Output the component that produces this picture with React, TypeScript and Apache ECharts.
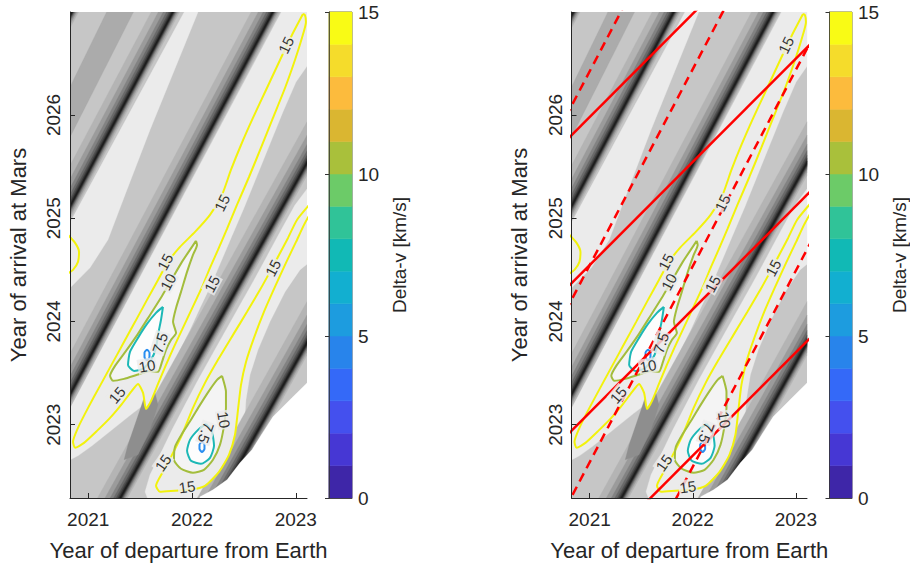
import { useEffect, useRef } from 'react';
import * as echarts from 'echarts';

// ---------- axes ----------
const depRange = [2020.824, 2023.108];
const arrRange = [2022.29, 2026.997];
const depTicks = [2021, 2022, 2023];
const arrTicks = [2023, 2024, 2025, 2026];
const cbTicks = [0, 5, 10, 15];
const cbLevels = [0, 1, 2, 3, 4, 5, 6, 7, 8, 9, 10, 11, 12, 13, 14];
const cbColors = ['#3e26a8', '#4637d4', '#4450ee', '#3469f8', '#2884eb', '#1d9cdf', '#12afd0', '#11b9b5',
  '#30c398', '#6ccb68', '#a9c03b', '#dab631', '#fcbb3d', '#f5dc2b', '#f9fb15'];

// ---------- contour lines (departure year, arrival year) ----------
const c15A = [[2023.069,2026.977],[2022.963,2026.774],[2022.848,2026.532],[2022.713,2026.242],[2022.587,2025.971],[2022.472,2025.709],[2022.375,2025.467],[2022.289,2025.225],[2022.173,2025.032],[2022.029,2024.867],[2021.884,2024.722],[2021.769,2024.577],[2021.672,2024.402],[2021.566,2024.209],[2021.451,2023.996],[2021.335,2023.783],[2021.229,2023.589],[2021.113,2023.376],[2020.998,2023.163],[2020.901,2022.970],[2020.853,2022.834],[2020.873,2022.776],[2020.959,2022.824],[2021.084,2022.940],[2021.210,2023.066],[2021.325,2023.202],[2021.412,2023.318],[2021.479,2023.395],[2021.528,2023.308],[2021.557,2023.153],[2021.605,2023.231],[2021.672,2023.395],[2021.749,2023.579],[2021.826,2023.754],[2021.903,2023.918],[2021.980,2024.083],[2022.048,2024.228],[2022.106,2024.354],[2022.173,2024.519],[2022.250,2024.693],[2022.337,2024.896],[2022.433,2025.128],[2022.549,2025.399],[2022.664,2025.680],[2022.780,2025.971],[2022.896,2026.261],[2022.992,2026.532],[2023.059,2026.745],[2023.098,2026.900],[2023.088,2026.968],[2023.069,2026.977]];
const c15B = [[2023.137,2025.138],[2023.011,2024.983],[2022.925,2024.809],[2022.838,2024.644],[2022.751,2024.480],[2022.655,2024.306],[2022.530,2024.093],[2022.395,2023.870],[2022.250,2023.628],[2022.125,2023.405],[2022.009,2023.163],[2021.903,2022.902],[2021.807,2022.708],[2021.720,2022.544],[2021.653,2022.408],[2021.691,2022.350],[2021.836,2022.360],[2021.980,2022.369],[2022.125,2022.408],[2022.260,2022.544],[2022.356,2022.708],[2022.414,2022.902],[2022.443,2023.144],[2022.472,2023.386],[2022.520,2023.608],[2022.597,2023.841],[2022.693,2024.093],[2022.799,2024.335],[2022.905,2024.567],[2023.002,2024.770],[2023.079,2024.935],[2023.137,2025.041]];
const c15C = [[2020.795,2024.848],[2020.873,2024.761],[2020.911,2024.673],[2020.901,2024.577],[2020.853,2024.499],[2020.795,2024.460]];
const contour15 = [c15A, c15B, c15C];

const c10A = [[2022.038,2024.780],[2021.980,2024.693],[2021.903,2024.577],[2021.807,2024.412],[2021.711,2024.247],[2021.595,2024.063],[2021.479,2023.880],[2021.364,2023.715],[2021.258,2023.570],[2021.210,2023.473],[2021.239,2023.425],[2021.345,2023.444],[2021.470,2023.483],[2021.595,2023.521],[2021.672,2023.512],[2021.711,2023.608],[2021.749,2023.725],[2021.797,2023.821],[2021.846,2023.889],[2021.817,2023.996],[2021.846,2024.131],[2021.894,2024.286],[2021.952,2024.480],[2022.009,2024.644],[2022.048,2024.741],[2022.038,2024.780]];
const c10B = [[2022.289,2023.473],[2022.327,2023.318],[2022.327,2023.163],[2022.308,2022.989],[2022.269,2022.805],[2022.202,2022.660],[2022.115,2022.563],[2022.009,2022.534],[2021.894,2022.573],[2021.826,2022.660],[2021.836,2022.786],[2021.903,2022.911],[2021.990,2023.047],[2022.077,2023.192],[2022.164,2023.328],[2022.241,2023.434],[2022.289,2023.473]];
const contour10 = [c10A, c10B];

const c75A = [[2021.720,2024.141],[2021.701,2024.015],[2021.672,2023.870],[2021.653,2023.744],[2021.605,2023.628],[2021.528,2023.541],[2021.441,2023.521],[2021.383,2023.579],[2021.402,2023.705],[2021.479,2023.841],[2021.566,2023.976],[2021.653,2024.083],[2021.720,2024.141]];
const c75B = [[2022.135,2023.008],[2022.192,2022.931],[2022.212,2022.795],[2022.173,2022.679],[2022.086,2022.621],[2021.990,2022.650],[2021.952,2022.747],[2021.980,2022.853],[2022.058,2022.950],[2022.135,2023.008]];
const contour75 = [c75A, c75B];

const c5A = [[2021.566,2023.729],[2021.590,2023.700],[2021.590,2023.652],[2021.566,2023.623],[2021.542,2023.652],[2021.542,2023.700],[2021.566,2023.729]];
const c5B = [[2022.096,2022.836],[2022.120,2022.808],[2022.120,2022.764],[2022.096,2022.736],[2022.072,2022.764],[2022.072,2022.808],[2022.096,2022.836]];
const contour5 = [c5A, c5B];

// contour labels
const labelText = ['15', '15', '15', '10', '15', '7.5', '10', '15', '15', '7.5', '10', '15', '15'];
const labelPos = [[2022.905,2026.677],[2022.289,2025.148],[2021.740,2024.577],[2021.769,2024.383],[2022.192,2024.364],[2021.691,2023.792],[2021.566,2023.570],[2021.277,2023.289],[2022.780,2024.519],[2022.135,2022.921],[2022.308,2023.047],[2021.720,2022.631],[2021.952,2022.398]];
const labelAngle = [64, 64, 62, 62, 62, 72, 10, 50, 62, -110, -80, 55, 8];

// ---------- grey background field ----------
// dark ridges: two points on each ridge centre line
const ridges = [
  [2020.844, 2026.998, 2021.817, 2028.847],
  [2020.844, 2025.148, 2021.817, 2026.997],
  [2020.824, 2023.289, 2022.780, 2026.997],
  [2021.306, 2022.282, 2022.626, 2024.664],
  [2022.500, 2022.698, 2023.108, 2023.792],
];
// offsets above / below the ridge centre (years of arrival)
const ridgeUp = [0.40, 0.27, 0.18, 0.12, 0.075, 0.045, 0.02];
const ridgeDown = [-0.12, -0.09, -0.065, -0.048, -0.034, -0.022, -0.01];
const ridgeGrey = ['#b4b4b4', '#9b9b9b', '#828282', '#696969', '#505050', '#373737', '#1e1e1e'];

const lightRegions = [
  [[2021.961,2027.065],[2022.086,2027.065],[2021.595,2025.854],[2021.354,2025.225],[2021.190,2024.790],[2021.017,2024.519],[2020.786,2024.286],[2020.786,2024.887]],
  [[2022.896,2027.065],[2023.137,2027.065],[2023.137,2026.513],[2023.002,2026.319],[2022.876,2026.029],[2022.751,2025.719],[2022.626,2025.409],[2022.501,2025.099],[2022.385,2024.828],[2022.279,2024.577],[2022.183,2024.354],[2022.077,2024.131],[2021.980,2023.918],[2021.884,2023.725],[2021.788,2023.531],[2021.691,2023.318],[2021.576,2023.221],[2021.422,2023.105],[2021.229,2022.950],[2021.036,2022.795],[2020.901,2022.698],[2020.786,2022.640],[2020.786,2023.086]],
  [[2023.137,2025.322],[2023.137,2024.577],[2023.040,2024.499],[2022.896,2024.286],[2022.751,2023.996],[2022.636,2023.725],[2022.559,2023.483],[2022.520,2023.241],[2022.501,2022.950],[2022.462,2022.660],[2022.385,2022.466],[2022.289,2022.321],[2022.173,2022.224],[2021.595,2022.224],[2021.547,2022.350],[2021.595,2022.515],[2021.691,2022.708],[2021.807,2022.950],[2021.932,2023.192],[2022.058,2023.434],[2022.192,2023.676],[2022.327,2023.918],[2022.462,2024.160],[2022.587,2024.383],[2022.713,2024.615],[2022.848,2024.867],[2022.992,2025.128]],
];
const mediumRegions = [
  [[2021.210,2027.065],[2021.470,2027.065],[2020.786,2025.709],[2020.786,2026.193]],
];
const wedgeRegions = [
  [[2021.605,2023.463],[2021.499,2023.144],[2021.383,2022.805],[2021.345,2022.660],[2021.479,2022.708],[2021.595,2022.950],[2021.672,2023.192]],
];
const noDataRegion = [[2023.137,2023.434],[2022.963,2023.260],[2022.780,2023.076],[2022.655,2022.882],[2022.578,2022.757],[2022.462,2022.631],[2022.337,2022.466],[2022.202,2022.369],[2022.077,2022.302],[2022.058,2022.224],[2023.137,2022.224]];

// ---------- red reference lines (right panel) ----------
const solidLines = [
  [[2020.70, 2025.68], [2022.20, 2027.18]],
  [[2020.70, 2024.245], [2023.20, 2026.745]],
  [[2020.70, 2022.818], [2023.20, 2025.318]],
  [[2021.50, 2022.20], [2023.20, 2023.90]],
];
const dashedLines = [
  [[2020.70, 2025.852], [2021.40, 2027.182]],
  [[2020.70, 2023.973], [2022.35, 2027.108]],
  [[2020.70, 2022.066], [2023.20, 2026.816]],
  [[2021.70, 2022.022], [2023.20, 2024.872]],
];

const FONT = "'Liberation Sans', Arial, Helvetica, sans-serif";
const TXT = '#262626';
const plain = (v: number) => String(v);

function clipPoly(pts: number[][]): number[][] {
  const bounds: [number, number, boolean][] = [
    [0, depRange[0], true], [0, depRange[1], false], [1, arrRange[0], true], [1, arrRange[1], false],
  ];
  let out = pts;
  for (const [a, v, greater] of bounds) {
    const inp = out;
    out = [];
    if (!inp.length) break;
    for (let i = 0; i < inp.length; i++) {
      const cur = inp[i];
      const prev = inp[(i + inp.length - 1) % inp.length];
      const inC = greater ? cur[a] >= v : cur[a] <= v;
      const inP = greater ? prev[a] >= v : prev[a] <= v;
      const cross = () => {
        const t = (v - prev[a]) / (cur[a] - prev[a]);
        return [prev[0] + t * (cur[0] - prev[0]), prev[1] + t * (cur[1] - prev[1])];
      };
      if (inC) {
        if (!inP) out.push(cross());
        out.push(cur);
      } else if (inP) {
        out.push(cross());
      }
    }
  }
  return out;
}

function ridgeBand(r: number[], up: number, down: number): number[][] {
  const [x1, y1, x2, y2] = r;
  const s = (y2 - y1) / (x2 - x1);
  const xa = 2020.3, xb = 2023.6;
  const ya = y1 + (xa - x1) * s, yb = y1 + (xb - x1) * s;
  return [[xa, ya + up], [xb, yb + up], [xb, yb + down], [xa, ya + down]];
}

function polySeries(g: number, polys: number[][][], fill: string) {
  return {
    type: 'custom', xAxisIndex: g, yAxisIndex: g, clip: true, silent: true, z: 1,
    data: polys.map((p) => p[0]),
    renderItem: (params: any, api: any) => {
      const clipped = clipPoly(polys[params.dataIndex]);
      if (clipped.length < 3) return { type: 'group', children: [] };
      return {
        type: 'polygon',
        shape: { points: clipped.map((p) => api.coord(p)) },
        style: { fill, stroke: fill, lineWidth: 0.3 },
      };
    },
  };
}

function lineSeries(g: number, pts: number[][], color: string, width: number, type: any = 'solid') {
  return {
    type: 'line', xAxisIndex: g, yAxisIndex: g, data: pts, showSymbol: false, symbol: 'none',
    clip: true, silent: true, z: 3, smooth: 0.2,
    lineStyle: { color, width, type, cap: 'butt' },
  };
}

function panelSeries(g: number, withRed: boolean) {
  const s: any[] = [];
  s.push(polySeries(g, mediumRegions, '#ababab'));
  s.push(polySeries(g, lightRegions, '#ebebeb'));
  ridgeUp.forEach((u, i) => {
    s.push(polySeries(g, ridges.map((r) => ridgeBand(r, u, ridgeDown[i])), ridgeGrey[i]));
  });
  s.push(polySeries(g, wedgeRegions, '#8e8e8e'));
  s.push(polySeries(g, [c15A, c15B], '#ebebeb'));
  s.push(polySeries(g, contour10, '#f4f4f4'));
  s.push(polySeries(g, contour75, '#fdfdfd'));
  s.push(polySeries(g, [noDataRegion], '#ffffff'));
  contour15.forEach((p) => s.push(lineSeries(g, p, '#f2f20c', 2)));
  contour10.forEach((p) => s.push(lineSeries(g, p, '#a3bd3c', 2)));
  contour75.forEach((p) => s.push(lineSeries(g, p, '#1db8b6', 2)));
  contour5.forEach((p) => s.push(lineSeries(g, p, '#2a8ef0', 2)));
  s.push({
    type: 'scatter', xAxisIndex: g, yAxisIndex: g, symbolSize: 1, silent: true, z: 4,
    itemStyle: { color: 'rgba(0,0,0,0)' },
    label: {
      show: true, position: 'inside', color: '#000', fontSize: 15, fontFamily: FONT,
      backgroundColor: '#ebebeb', padding: [0, 1],
    },
    data: labelPos.map((p, i) => ({ value: p, label: { formatter: labelText[i], rotate: labelAngle[i] } })),
  });
  if (withRed) {
    solidLines.forEach((l) => s.push(lineSeries(g, l, '#ff0000', 2.5)));
    dashedLines.forEach((l) => s.push(lineSeries(g, l, '#ff0000', 2.5, [9, 6])));
  }
  return s;
}

function cbSeries(g: number) {
  return {
    type: 'custom', xAxisIndex: g, yAxisIndex: g, silent: true, z: 1,
    data: cbLevels.map((l) => [0, l]),
    renderItem: (params: any, api: any) => {
      const l = cbLevels[params.dataIndex];
      const p0 = api.coord([0, l]);
      const p1 = api.coord([1, l + 1]);
      return {
        type: 'rect',
        shape: { x: p0[0], y: p1[1], width: p1[0] - p0[0], height: p0[1] - p1[1] },
        style: { fill: cbColors[params.dataIndex], stroke: cbColors[params.dataIndex], lineWidth: 0.5 },
      };
    },
  };
}

function mainX(g: number) {
  return {
    type: 'value', gridIndex: g, min: depRange[0], max: depRange[1], z: 5,
    axisLine: { show: true, lineStyle: { color: TXT, width: 1 } },
    axisTick: { show: true, inside: true, length: 5, customValues: depTicks, lineStyle: { color: TXT } },
    axisLabel: { customValues: depTicks, formatter: plain, fontSize: 19, color: TXT, fontFamily: FONT, margin: 12 },
    splitLine: { show: false },
    name: 'Year of departure from Earth', nameLocation: 'middle', nameGap: 41,
    nameTextStyle: { fontSize: 22, color: TXT, fontFamily: FONT },
  };
}
function mainY(g: number) {
  return {
    type: 'value', gridIndex: g, min: arrRange[0], max: arrRange[1], z: 5,
    axisLine: { show: true, lineStyle: { color: TXT, width: 1 } },
    axisTick: { show: true, inside: true, length: 5, customValues: arrTicks, lineStyle: { color: TXT } },
    axisLabel: { customValues: arrTicks, formatter: plain, fontSize: 19, color: TXT, fontFamily: FONT, rotate: 90, margin: 7 },
    splitLine: { show: false },
    name: 'Year of arrival at Mars', nameLocation: 'middle', nameGap: 41, nameRotate: 90,
    nameTextStyle: { fontSize: 22, color: TXT, fontFamily: FONT },
  };
}
function cbX(g: number) {
  return {
    type: 'value', gridIndex: g, min: 0, max: 1, z: 5,
    axisLine: { show: true, lineStyle: { color: '#333', width: 0.8 } },
    axisTick: { show: false }, axisLabel: { show: false }, splitLine: { show: false },
  };
}
function cbY(g: number) {
  return {
    type: 'value', gridIndex: g, min: 0, max: 15, position: 'right', z: 5,
    axisLine: { show: true, lineStyle: { color: '#333', width: 0.8 } },
    axisTick: { show: true, inside: true, length: 4, customValues: cbTicks, lineStyle: { color: '#333' } },
    axisLabel: { customValues: cbTicks, formatter: plain, fontSize: 19, color: TXT, fontFamily: FONT, margin: 6 },
    splitLine: { show: false },
    name: 'Delta-v [km/s]', nameLocation: 'middle', nameGap: 38, nameRotate: 90,
    nameTextStyle: { fontSize: 19, color: TXT, fontFamily: FONT },
  };
}

export default function App() {
  const ref = useRef<HTMLDivElement>(null);
  useEffect(() => {
    if (!ref.current) return;
    const chart = echarts.init(ref.current, undefined, { renderer: 'svg' });
    chart.setOption({
      animation: false,
      backgroundColor: '#ffffff',
      textStyle: { fontFamily: FONT },
      grid: [
        { left: 70, top: 12, width: 237, height: 486, show: true, backgroundColor: '#c6c6c6', borderWidth: 0 },
        { left: 571.5, top: 12, width: 235.5, height: 486, show: true, backgroundColor: '#c6c6c6', borderWidth: 0 },
        { left: 329, top: 12, width: 23, height: 486, show: true, borderColor: '#333', borderWidth: 0.8 },
        { left: 829.5, top: 12, width: 23, height: 486, show: true, borderColor: '#333', borderWidth: 0.8 },
      ],
      xAxis: [mainX(0), mainX(1), cbX(2), cbX(3)],
      yAxis: [mainY(0), mainY(1), cbY(2), cbY(3)],
      series: [...panelSeries(0, false), ...panelSeries(1, true), cbSeries(2), cbSeries(3)],
    });
    return () => chart.dispose();
  }, []);
  return (
    <div
      ref={ref}
      style={{ position: 'absolute', left: 0, top: 0, width: 910, height: 567, background: '#fff' }}
    />
  );
}
